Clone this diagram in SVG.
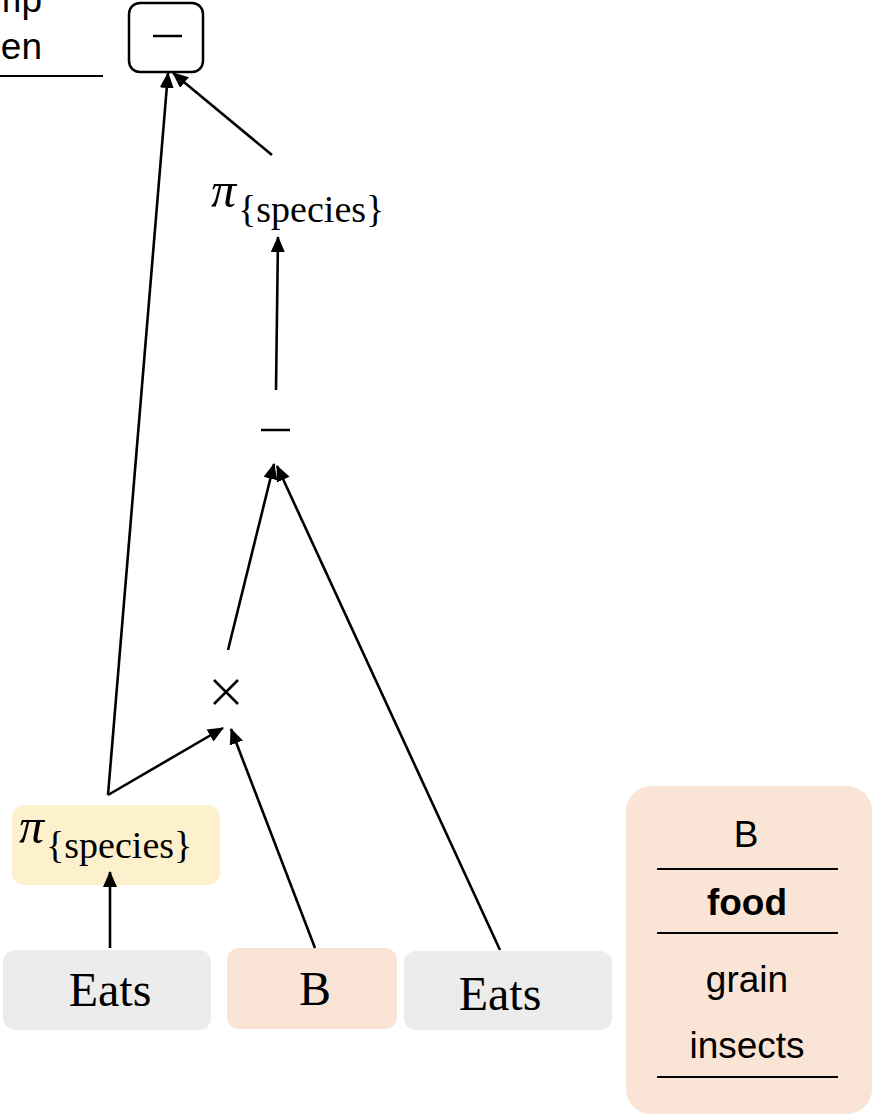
<svg xmlns="http://www.w3.org/2000/svg" width="872" height="1117" viewBox="0 0 872 1117">
<defs>
<marker id="ah" markerWidth="16" markerHeight="14" refX="15" refY="7" orient="auto" markerUnits="userSpaceOnUse" viewBox="0 0 16 14">
<path d="M0,0 L16,7 L0,14 Z" fill="#000"/>
</marker>
<style>
.edge{stroke:#000;stroke-width:2.6;fill:none;marker-end:url(#ah)}
.sans{font-family:"Liberation Sans",Arial,sans-serif;font-size:37px;fill:#000}
.serif{font-family:"Liberation Serif","DejaVu Serif",serif;fill:#000}
.pi{font-style:italic;font-size:50px}
.sub{font-size:38px}
.rel{font-size:48px}
.gray{fill:#ececec}
.peach{fill:#fae4d6}
.yellow{fill:#fdf1cd}
</style>
</defs>
<rect width="872" height="1117" fill="#fff"/>

<g id="caption">
<text class="sans" x="42" y="12" text-anchor="end">mp</text>
<text class="sans" x="42" y="59" text-anchor="end">en</text>
<line x1="0" y1="76" x2="103" y2="76" stroke="#000" stroke-width="2"/>
</g>

<g id="root-minus">
<rect x="129" y="3" width="74" height="69" rx="11" fill="#fff" stroke="#000" stroke-width="2.5"/>
<line x1="153" y1="36" x2="182" y2="36" stroke="#000" stroke-width="2.5"/>
</g>

<g id="proj-top">
<text class="serif" x="211" y="207"><tspan class="pi">π</tspan><tspan class="sub" dx="2" dy="15">{species}</tspan></text>
</g>

<g id="diff-mid">
<line x1="261" y1="430" x2="290" y2="430" stroke="#000" stroke-width="2.5"/>
</g>

<g id="cross">
<path d="M214,680 L238,704 M238,680 L214,704" stroke="#000" stroke-width="2.5" fill="none"/>
</g>

<g id="proj-eats">
<rect class="yellow" x="12" y="805" width="208" height="80" rx="12"/>
<text class="serif" x="19" y="843"><tspan class="pi">π</tspan><tspan class="sub" dx="2" dy="15">{species}</tspan></text>
</g>

<g id="eats1">
<rect class="gray" x="3" y="950" width="208" height="80" rx="12"/>
<text class="serif rel" x="110" y="1006" text-anchor="middle">Eats</text>
</g>

<g id="b-rel">
<rect class="peach" x="227" y="948" width="170" height="81" rx="12"/>
<text class="serif rel" x="315" y="1005" text-anchor="middle">B</text>
</g>

<g id="eats2">
<rect class="gray" x="404" y="951" width="208" height="79" rx="12"/>
<text class="serif rel" x="500" y="1010" text-anchor="middle">Eats</text>
</g>

<g id="table-b">
<rect class="peach" x="626" y="786" width="246" height="328" rx="25"/>
<text class="sans" x="746" y="847" text-anchor="middle">B</text>
<line x1="657" y1="869" x2="838" y2="869" stroke="#000" stroke-width="2"/>
<text class="sans" x="747" y="915" text-anchor="middle" font-weight="bold">food</text>
<line x1="657" y1="933" x2="838" y2="933" stroke="#000" stroke-width="2"/>
<text class="sans" x="747" y="992" text-anchor="middle">grain</text>
<text class="sans" x="747" y="1058" text-anchor="middle">insects</text>
<line x1="657" y1="1077" x2="838" y2="1077" stroke="#000" stroke-width="2"/>
</g>

<g id="connectors">
<line class="edge" x1="110" y1="948" x2="110" y2="872"/>
<line class="edge" x1="108" y1="795" x2="223" y2="728"/>
<line class="edge" x1="315" y1="948" x2="231" y2="729"/>
<line class="edge" x1="228" y1="650" x2="274" y2="464"/>
<line class="edge" x1="500" y1="950" x2="277" y2="466"/>
<line class="edge" x1="276" y1="390" x2="278" y2="237"/>
<line class="edge" x1="272" y1="155" x2="173" y2="73"/>
<line class="edge" x1="108" y1="795" x2="168" y2="73"/>
</g>
</svg>
